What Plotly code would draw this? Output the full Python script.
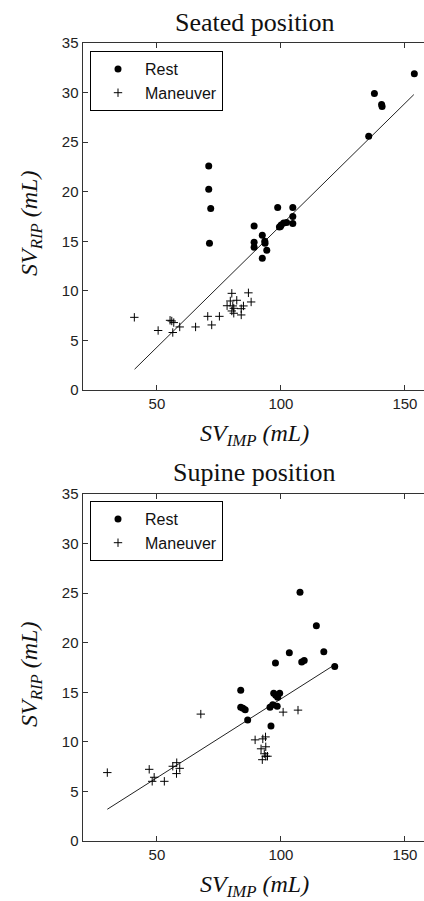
import plotly.graph_objects as go

# ---------------- data ----------------
seated_rest_x = [153.8, 137.7, 140.6, 140.8, 135.4, 70.9, 70.9, 71.7, 71.2, 98.7, 104.8, 104.8, 104.8,
                 89.2, 92.5, 89.2, 89.2, 93.5, 93.6, 94.3, 92.5, 99.4, 100.1, 101.1, 102.3, 99.8]
seated_rest_y = [31.9, 29.9, 28.8, 28.6, 25.6, 22.6, 20.25, 18.3, 14.8, 18.4, 18.4, 17.5, 16.8,
                 16.55, 15.6, 14.9, 14.4, 15.0, 14.8, 14.1, 13.3, 16.45, 16.65, 16.85, 16.9, 16.5]
seated_man_x = [40.9, 50.5, 55.3, 56.0, 56.8, 56.4, 59.2, 65.6, 70.5, 72.1, 75.2, 78.3, 80.2, 79.6,
                82.2, 80.6, 81.0, 80.2, 81.0, 84.0, 84.9, 84.0, 86.9, 88.0]
seated_man_y = [7.33, 6.0, 7.03, 6.96, 6.8, 5.8, 6.36, 6.36, 7.43, 6.56, 7.43, 8.5, 9.75, 8.98,
                9.05, 8.48, 8.24, 7.97, 7.74, 8.2, 8.48, 7.57, 9.8, 8.88]
seated_fit_x = [41.0, 153.6]
seated_fit_coef = [0.246, -7.99]  # slope, intercept

supine_rest_x = [107.7, 114.3, 103.4, 117.3, 108.4, 109.4, 97.8, 121.7, 83.8, 83.8, 84.7, 85.6, 86.6,
                 96.0, 95.6, 96.7, 98.5, 97.1, 97.9, 98.7, 99.5]
supine_rest_y = [25.1, 21.7, 19.0, 19.1, 18.06, 18.2, 17.95, 17.6, 15.2, 13.5, 13.4, 13.25, 12.2,
                 11.6, 13.5, 13.75, 13.6, 14.9, 14.7, 14.5, 14.9]
supine_man_x = [67.7, 100.9, 106.9, 30.0, 46.9, 48.9, 48.1, 53.0, 56.4, 58.0, 59.2, 57.9, 89.6, 92.7,
                93.8, 92.0, 93.9, 93.3, 93.9, 94.6, 92.5]
supine_man_y = [12.8, 13.0, 13.2, 6.9, 7.23, 6.43, 6.02, 6.02, 7.54, 7.9, 7.33, 6.8, 10.2, 10.3,
                10.5, 9.3, 9.5, 8.8, 8.55, 8.55, 8.2]
supine_fit_x = [30.0, 121.0]
supine_fit_coef = [0.159, -1.57]

x_ticks = [50, 100, 150]
y_ticks = [0, 5, 10, 15, 20, 25, 30, 35]
titles = ["Seated position", "Supine position"]
legend_names = ["Rest", "Maneuver"]

# ---------------- figure ----------------
W, H = 424, 901
fig = go.Figure()

panels = [
    (seated_rest_x, seated_rest_y, seated_man_x, seated_man_y, seated_fit_x, seated_fit_coef, "x", "y", "legend"),
    (supine_rest_x, supine_rest_y, supine_man_x, supine_man_y, supine_fit_x, supine_fit_coef, "x2", "y2", "legend2"),
]
for rx, ry, mx, my, fx, coef, xa, ya, lg in panels:
    fy = [coef[0] * v + coef[1] for v in fx]
    fig.add_trace(go.Scatter(x=fx, y=fy, mode="lines", line=dict(color="#222", width=1),
                             xaxis=xa, yaxis=ya, showlegend=False, hoverinfo="skip"))
    fig.add_trace(go.Scatter(x=rx, y=ry, mode="markers", name=legend_names[0],
                             marker=dict(symbol="circle", size=7, color="black"),
                             xaxis=xa, yaxis=ya, legend=lg))
    fig.add_trace(go.Scatter(x=mx, y=my, mode="markers", name=legend_names[1],
                             marker=dict(symbol="cross-thin", size=6, color="black",
                                         line=dict(color="black", width=1)),
                             xaxis=xa, yaxis=ya, legend=lg))

left_px = 82.5
x_dom = [left_px / W, 1.0]
top_dom = [1 - 390 / H, 1 - 43 / H]
bot_dom = [1 - 841 / H, 1 - 494 / H]

axis_common = dict(showline=True, linecolor="#333", linewidth=1, ticks="inside", ticklen=5,
                   tickcolor="#333", showgrid=False, zeroline=False, automargin=False,
                   tickfont=dict(family="Liberation Sans", size=15, color="#222"))

legend_common = dict(xanchor="left", yanchor="top", bordercolor="black",
                     borderwidth=1, bgcolor="white",
                     font=dict(family="Liberation Sans", size=16, color="#111"),
                     itemwidth=44)

fig.update_layout(
    template="none",
    width=W, height=H, autosize=False,
    margin=dict(l=0, r=0, t=0, b=0, pad=0, autoexpand=False),
    paper_bgcolor="white", plot_bgcolor="white",
    xaxis=dict(domain=x_dom, range=[20, 157.7], tickvals=x_ticks, anchor="y", mirror="ticks", **axis_common),
    yaxis=dict(domain=top_dom, range=[0, 35], tickvals=y_ticks, anchor="x", mirror=False, **axis_common),
    xaxis2=dict(domain=x_dom, range=[20, 157.7], tickvals=x_ticks, anchor="y2", mirror="ticks", **axis_common),
    yaxis2=dict(domain=bot_dom, range=[0, 35], tickvals=y_ticks, anchor="x2", mirror=False, **axis_common),
    legend=dict(x=90 / W, y=1 - 51 / H, **legend_common),
    legend2=dict(x=90 / W, y=1 - 501 / H, **legend_common),
    showlegend=True,
)

serif = "Liberation Serif"
xlab = "<i>SV</i><sub><i>IMP</i></sub><i> (mL)</i>"
ylab = "<i>SV</i><sub><i>RIP</i></sub><i> (mL)</i>"
ann = []
for title, tmid, axbottom, pcenter in [(titles[0], 23, 390, 224), (titles[1], 473, 841, 675)]:
    ann.append(dict(text=title, x=255 / W, y=1 - tmid / H, xref="paper", yref="paper",
                    xanchor="center", yanchor="middle", showarrow=False,
                    font=dict(family=serif, size=26, color="#111")))
    ann.append(dict(text=xlab, x=255 / W, y=1 - (axbottom + 45) / H, xref="paper", yref="paper",
                    xanchor="center", yanchor="middle", showarrow=False,
                    font=dict(family=serif, size=24, color="#111")))
    ann.append(dict(text=ylab, x=31 / W, y=1 - pcenter / H, xref="paper", yref="paper",
                    xanchor="center", yanchor="middle", showarrow=False, textangle=-90,
                    font=dict(family=serif, size=24, color="#111")))
fig.update_layout(annotations=ann)

fig.write_html("out.html", config={"displayModeBar": False},
               post_script="document.body.style.margin='0';document.body.style.overflow='hidden';")
